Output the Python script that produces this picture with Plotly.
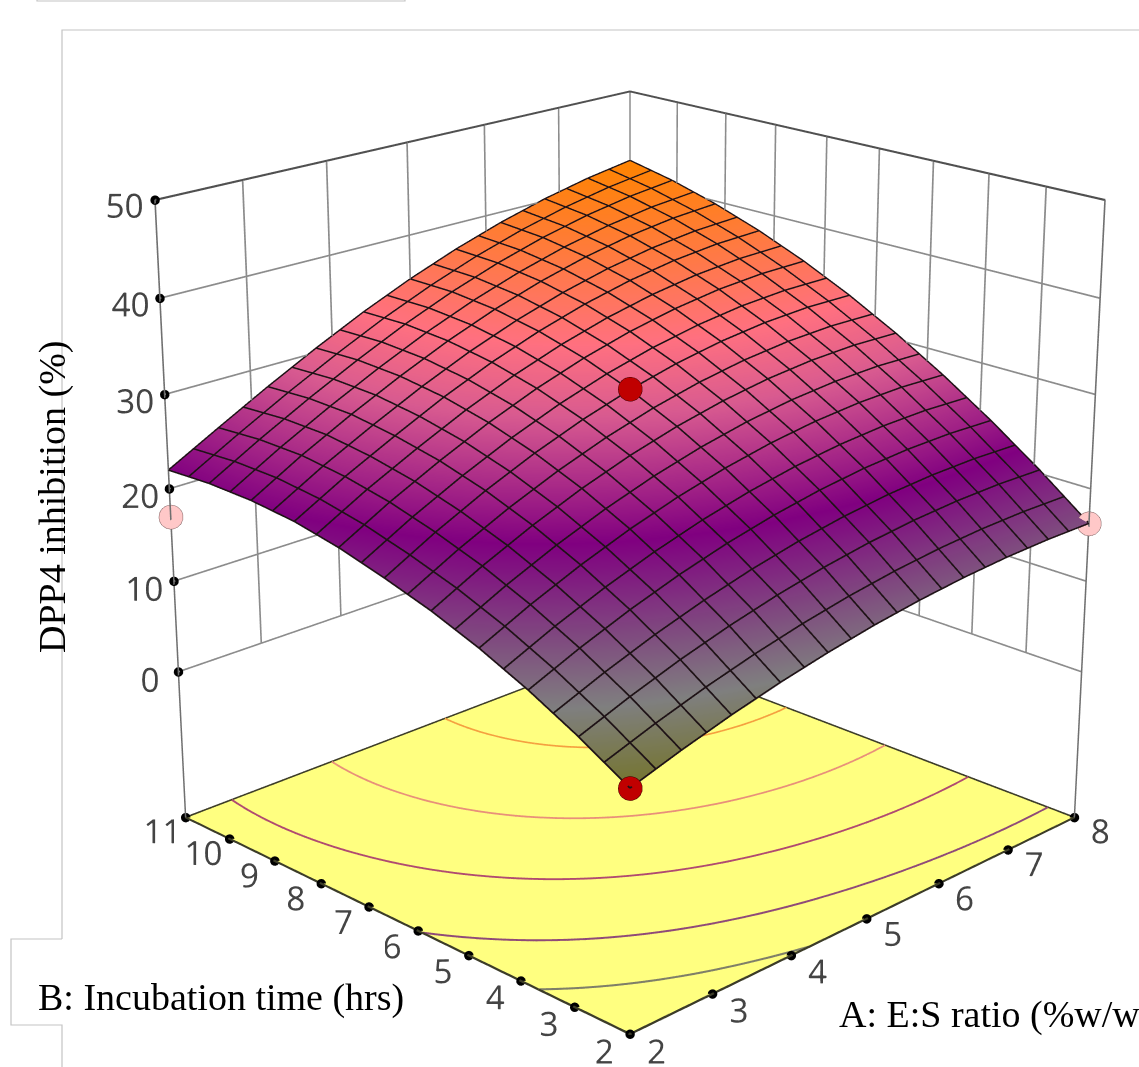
import numpy as np
import plotly.graph_objects as go

W, H = 1260, 2830
OFF = 896   # figure is larger than the page and shifted up, so that the fixed lens field gets a long focal length
def px(x): return x / W
def py(y): return 1 - (y + OFF) / H

# factor levels of the response-surface table
es_ratio = [2.0, 2.6, 3.2, 3.8, 4.4, 5.0, 5.6, 6.2, 6.8, 7.4, 8.0]
inc_time = [2.0, 2.9, 3.8, 4.7, 5.6, 6.5, 7.4, 8.3, 9.2, 10.1, 11.0]
# DPP4 inhibition: rows = incubation time, cols = E:S ratio
z_row_00 = [8.28, 9.90, 11.35, 12.61, 13.68, 14.58, 15.28, 15.81, 16.15, 16.30, 16.28]
z_row_01 = [11.23, 13.17, 14.89, 16.37, 17.63, 18.66, 19.46, 20.03, 20.37, 20.49, 20.38]
z_row_02 = [13.82, 16.04, 18.0, 19.70, 21.13, 22.29, 23.19, 23.83, 24.20, 24.30, 24.14]
z_row_03 = [16.04, 18.51, 20.69, 22.58, 24.17, 25.47, 26.48, 27.19, 27.61, 27.74, 27.57]
z_row_04 = [17.89, 20.59, 22.96, 25.03, 26.78, 28.21, 29.33, 30.14, 30.63, 30.81, 30.67]
z_row_05 = [19.38, 22.26, 24.81, 27.03, 28.93, 30.5, 31.74, 32.65, 33.24, 33.50, 33.43]
z_row_06 = [20.69, 23.63, 26.23, 28.60, 30.64, 32.34, 33.71, 34.74, 35.45, 35.81, 35.85]
z_row_07 = [21.64, 24.60, 27.23, 29.73, 31.90, 33.73, 35.24, 36.41, 37.25, 37.76, 37.93]
z_row_08 = [22.12, 25.18, 27.91, 30.42, 32.71, 34.68, 36.32, 37.65, 38.65, 39.33, 39.68]
z_row_09 = [22.23, 25.25, 28.06, 30.67, 33.08, 35.18, 36.97, 38.46, 39.64, 40.52, 41.10]
z_row_10 = [22.0, 24.93, 27.80, 30.49, 33.0, 35.23, 37.18, 38.85, 40.24, 41.35, 42.18]
z_rows = [z_row_00, z_row_01, z_row_02, z_row_03, z_row_04, z_row_05, z_row_06,
          z_row_07, z_row_08, z_row_09, z_row_10]
# design points
pts_red_x, pts_red_y, pts_red_z = [4.88, 2], [6.32, 2], [31.2, 8.28]
pts_pink_x, pts_pink_y, pts_pink_z = [2, 8], [11, 2], [17.0, 16.28]
# ticks
x_ticks = [2, 3, 4, 5, 6, 7, 8]
y_ticks = [2, 3, 4, 5, 6, 7, 8, 9, 10, 11]
z_ticks = [0, 10, 20, 30, 40, 50]
floor_z = -16.5
contour_levels = [13.4, 18.5, 24.8, 30.6, 36.3]
contour_colors = ["#7f7f68", "#8f4a78", "#b04a70", "#e8907a", "#f5a040"]

X = np.array(es_ratio)
Y = np.array(inc_time)
Z = np.array(z_rows)

X_RANGE = [1.96, 8.04]
Y_RANGE = [1.94, 11.06]
Z_RANGE = [floor_z - 0.44, 50.44]
ASPECT = (1.0133, 1.0133, 1.0257)
EYE = np.array([-3.49, -3.49, 1.82])


def bilinear(x, y):
    i = min(np.searchsorted(X, x, side="right") - 1, len(X) - 2)
    j = min(np.searchsorted(Y, y, side="right") - 1, len(Y) - 2)
    s = (x - X[i]) / (X[i + 1] - X[i])
    t = (y - Y[j]) / (Y[j + 1] - Y[j])
    return ((1 - s) * (1 - t) * Z[j, i] + s * (1 - t) * Z[j, i + 1]
            + (1 - s) * t * Z[j + 1, i] + s * t * Z[j + 1, i + 1])


LO = np.array([X_RANGE[0], Y_RANGE[0], Z_RANGE[0]])
HI = np.array([X_RANGE[1], Y_RANGE[1], Z_RANGE[1]])
ASP = np.array(ASPECT)


def to_norm(p):
    return ((np.array(p, float) - (LO + HI) / 2) / (HI - LO)) * ASP


def from_norm(n):
    return n / ASP * (HI - LO) + (LO + HI) / 2


def ribbons(polylines, color, width, lift=0.002):
    """Screen-facing strips (gl lines are 1px and flicker), one mesh per colour."""
    vx, vy, vz, ii, jj, kk = [], [], [], [], [], []
    for line in polylines:
        for a, b in zip(line[:-1], line[1:]):
            na, nb = to_norm(a), to_norm(b)
            view = EYE - (na + nb) / 2
            view = view / np.linalg.norm(view)
            side = np.cross(nb - na, view)
            nrm = np.linalg.norm(side)
            if nrm == 0:
                continue
            side = side / nrm * width / 2
            base = len(vx)
            for q in (na + side, na - side, nb - side, nb + side):
                d = from_norm(q + view * lift)
                vx.append(d[0]); vy.append(d[1]); vz.append(d[2])
            ii += [base, base]; jj += [base + 1, base + 2]; kk += [base + 2, base + 3]
    return go.Mesh3d(x=vx, y=vy, z=vz, i=ii, j=jj, k=kk, color=color, flatshading=True,
                     lighting=dict(ambient=1, diffuse=0, specular=0, fresnel=0),
                     hoverinfo="skip", showlegend=False)


# smooth the table only for tracing the floor contours (cubic least-squares fit of the table)
def basis(xv, yv):
    u = (np.asarray(xv) - 5.0) / 3.0
    v = (np.asarray(yv) - 6.5) / 4.5
    return np.stack([u ** a * v ** b for a in range(4) for b in range(4)], axis=-1)


GX, GY = np.meshgrid(X, Y)
coef = np.linalg.lstsq(basis(GX, GY).reshape(-1, 16), Z.ravel(), rcond=None)[0]
FX = np.linspace(2, 8, 61)
FY = np.linspace(2, 11, 61)
FGX, FGY = np.meshgrid(FX, FY)
FZ = basis(FGX, FGY) @ coef


def contour_segments(level):
    out = []
    for j in range(len(FY) - 1):
        for i in range(len(FX) - 1):
            c = [(FX[i], FY[j], FZ[j, i]), (FX[i + 1], FY[j], FZ[j, i + 1]),
                 (FX[i + 1], FY[j + 1], FZ[j + 1, i + 1]), (FX[i], FY[j + 1], FZ[j + 1, i])]
            hits = []
            for k in range(4):
                a, b = c[k], c[(k + 1) % 4]
                if (a[2] - level) * (b[2] - level) < 0:
                    t = (level - a[2]) / (b[2] - a[2])
                    hits.append((a[0] + t * (b[0] - a[0]), a[1] + t * (b[1] - a[1]), floor_z))
            if len(hits) == 2:
                out.append(hits)
    return out


fig = go.Figure()
# floor
fig.add_trace(go.Surface(x=[2, 8], y=[2, 11], z=[[floor_z, floor_z], [floor_z, floor_z]],
                         surfacecolor=[[0, 0], [0, 0]], cmin=0, cmax=1,
                         colorscale=[[0, "#ffff80"], [1, "#ffff80"]], showscale=False,
                         lighting=dict(ambient=1, diffuse=0, specular=0, fresnel=0),
                         hoverinfo="skip"))
# response surface
fig.add_trace(go.Surface(
    x=es_ratio, y=inc_time, z=z_rows, showscale=False, cmin=8.3, cmax=42.2,
    colorscale=[[0, "#75752f"], [0.13, "#7f7f7f"], [0.40, "#800080"], [0.61, "#d85a90"],
                [0.73, "#ff7080"], [1, "#ff8400"]],
    lighting=dict(ambient=1, diffuse=0, specular=0, fresnel=0),
    hoverinfo="skip"))
# mesh lines on the surface (21 x 21)
mesh_x = list(np.linspace(2, 8, 21))
mesh_y = list(np.linspace(2, 11, 21))
lines = [[(mx, my, bilinear(mx, my)) for my in mesh_y] for mx in mesh_x]
lines += [[(mx, my, bilinear(mx, my)) for mx in mesh_x] for my in mesh_y]
fig.add_trace(ribbons(lines, "#1e1216", 0.0024))
# floor contours
for lev, col in zip(contour_levels, contour_colors):
    fig.add_trace(ribbons(contour_segments(lev), col, 0.0036))
# wall grid
grid = []
for v in x_ticks[1:-1]:
    grid.append([(v, 11, 0), (v, 11, 50)])
for v in y_ticks[1:-1]:
    grid.append([(8, v, 0), (8, v, 50)])
for v in z_ticks[:-1]:
    grid.append([(2, 11, v), (8, 11, v), (8, 2, v)])
grid.append([(8, 11, 0), (8, 11, 50)])
fig.add_trace(ribbons(grid, "#8c8c8c", 0.0026))
# frame edges
fig.add_trace(ribbons([[(2, 11, 50), (8, 11, 50), (8, 2, 50)]], "#505050", 0.0032))
fig.add_trace(ribbons([[(2, 11, floor_z), (2, 11, 50)], [(8, 2, floor_z), (8, 2, 50)]], "#707070", 0.0024))
fig.add_trace(ribbons([[(2, 2, floor_z), (8, 2, floor_z), (8, 11, floor_z), (2, 11, floor_z), (2, 2, floor_z)]],
                      "#3c3c28", 0.0032))
# tick dots
dx = x_ticks + [2] * len(y_ticks) + [2] * len(z_ticks)
dy = [2] * len(x_ticks) + y_ticks + [11] * len(z_ticks)
dz = [floor_z] * (len(x_ticks) + len(y_ticks)) + z_ticks
fig.add_trace(go.Scatter3d(x=dx, y=dy, z=dz, mode="markers", marker=dict(color="black", size=5.5),
                           hoverinfo="skip", showlegend=False))
# design points
fig.add_trace(go.Scatter3d(x=pts_red_x, y=pts_red_y, z=pts_red_z, mode="markers",
                           marker=dict(color="#c00000", size=14, line=dict(color="#400000", width=1)),
                           hoverinfo="skip", showlegend=False))
fig.add_trace(go.Scatter3d(x=pts_pink_x, y=pts_pink_y, z=pts_pink_z, mode="markers",
                           marker=dict(color="#ffc8c8", size=14, line=dict(color="#806060", width=1)),
                           hoverinfo="skip", showlegend=False))

tickfont = dict(family="Open Sans", size=20, color="#444444")
axis = dict(showgrid=False, zeroline=False, showbackground=False, showspikes=False, showline=False,
            ticks="outside", tickcolor="rgba(0,0,0,0)", tickwidth=0.1,
            title=dict(text=""), tickfont=tickfont, tickmode="array", tickangle=0)
GRAY = "#c4c4c4"
fig.update_layout(
    width=W, height=H, autosize=False, margin=dict(l=0, r=0, t=0, b=0),
    paper_bgcolor="white", showlegend=False,
    scene=dict(
        domain=dict(x=[0, 1], y=[0, 1]),
        xaxis=dict(axis, range=X_RANGE, tickvals=x_ticks, ticklen=6),
        yaxis=dict(axis, range=Y_RANGE, tickvals=y_ticks, ticklen=6),
        zaxis=dict(axis, range=Z_RANGE, tickvals=z_ticks, ticklen=4),
        aspectmode="manual", aspectratio=dict(x=ASPECT[0], y=ASPECT[1], z=ASPECT[2]),
        camera=dict(eye=dict(x=EYE[0], y=EYE[1], z=EYE[2]), center=dict(x=0, y=0, z=0),
                    up=dict(x=0, y=0, z=1)),
    ),
    shapes=[
        dict(type="path", xref="paper", yref="paper", line=dict(color=GRAY, width=1.2),
             path=f"M {px(62)} {py(939)} L {px(62)} {py(30)} L {px(1139)} {py(30)}"),
        dict(type="path", xref="paper", yref="paper", line=dict(color=GRAY, width=1.2),
             path=f"M {px(62)} {py(939)} L {px(11)} {py(939)} L {px(11)} {py(1025)} L {px(62)} {py(1025)} L {px(62)} {py(1067)}"),
        dict(type="path", xref="paper", yref="paper", line=dict(color=GRAY, width=1.2),
             path=f"M {px(37)} {py(0)} L {px(37)} {py(1)} L {px(405)} {py(1)} L {px(405)} {py(0)}"),
    ],
    annotations=[
        dict(xref="paper", yref="paper", x=px(12), y=py(940), xanchor="left", yanchor="top", text=" ",
             width=373, height=84, bgcolor="white", showarrow=False, borderwidth=0, borderpad=0),
        dict(xref="paper", yref="paper", x=px(36), y=py(997), xanchor="left", yanchor="middle",
             text="B: Incubation time (hrs)", showarrow=False,
             font=dict(family="Liberation Serif", size=38, color="black")),
        dict(xref="paper", yref="paper", x=px(837), y=py(1014), xanchor="left", yanchor="middle",
             text="A: E:S ratio (%w/w)", showarrow=False,
             font=dict(family="Liberation Serif", size=38, color="black")),
        dict(xref="paper", yref="paper", x=px(52), y=py(497), xanchor="center", yanchor="middle",
             text="DPP4 inhibition (%)", textangle=-90, showarrow=False,
             font=dict(family="Liberation Serif", size=38, color="black")),
    ],
)
post = ("document.documentElement.style.overflow='hidden';document.body.style.overflow='hidden';"
        "document.body.style.margin='0';gd=document.getElementsByClassName('plotly-graph-div')[0];"
        f"gd.style.position='absolute';gd.style.left='0px';gd.style.top='{-OFF}px';")
fig.write_html("out.html", config=dict(displayModeBar=False), post_script=post)
